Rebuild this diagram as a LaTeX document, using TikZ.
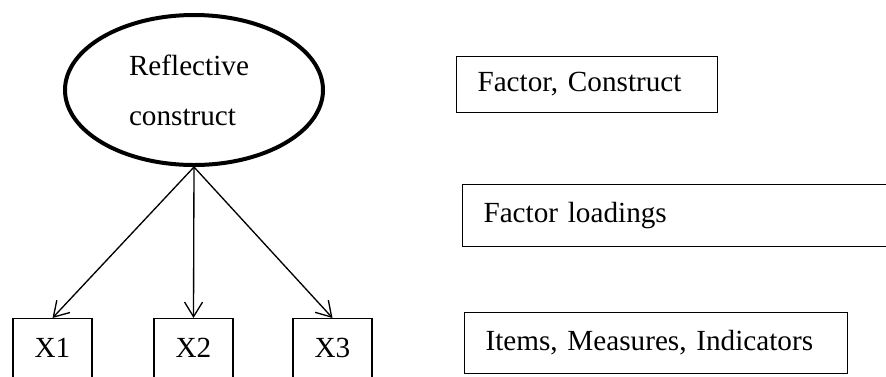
\documentclass[tikz,border=0pt]{standalone}
\usepackage{fontspec}
\setmainfont{Liberation Serif}
\usetikzlibrary{arrows.meta,shapes.geometric}
\begin{document}
\begin{tikzpicture}[x=0.75pt,y=-0.75pt,
  every node/.style={font=\fontsize{21.9}{37.5}\selectfont},
  latent/.style={draw, ellipse, line width=3pt, inner sep=0pt,
    minimum width=258*0.75pt, minimum height=150*0.75pt,
    text width=130*0.75pt, align=left},
  item/.style={draw, line width=0.8pt, minimum width=79*0.75pt,
    text height=29.25pt, text depth=24.75pt, inner sep=0pt, anchor=north},
  legendbox/.style={draw, line width=0.8pt, anchor=north west,
    inner xsep=15.75pt, inner ysep=0pt, align=left},
  loading/.style={line width=1pt,
    -{Straight Barb[length=11pt,width=13.5pt,line width=1pt]}}]
\useasboundingbox (0,0) rectangle (886,376);
\clip (0,0) rectangle (886,376);

% latent variable and its three indicators
\node[latent] (F) at (194,90) {Reflective\\construct};
\node[item] (X1) at (52.5,318) {X1};
\node[item] (X2) at (193.5,318) {X2};
\node[item] (X3) at (332.5,318) {X3};

\draw[loading] (F.south) -- (X1.north);
\draw[loading] (F.south) -- (X2.north);
\draw[loading] (F.south) -- (X3.north);

% legend
\node[legendbox, text width=219*0.75pt, minimum height=56*0.75pt]
  (L1) at (456,56) {Factor, Construct};
\node[legendbox, text width=386*0.75pt, minimum height=62*0.75pt]
  (L2) at (462,184) {Factor loadings};
\node[legendbox, text width=341*0.75pt, minimum height=61*0.75pt]
  (L3) at (464,312) {Items, Measures, Indicators};
\end{tikzpicture}
\end{document}
